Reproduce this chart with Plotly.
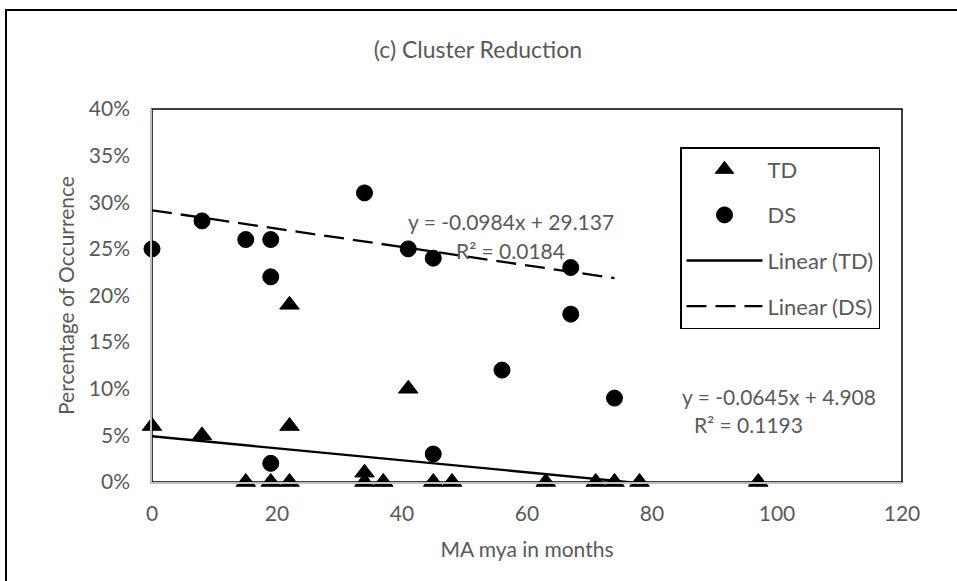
import plotly.graph_objects as go

# ---- data (percent values) ----
td_x = [0, 8, 15, 19, 22, 22, 22, 34, 34, 37, 41, 45, 48, 63, 71, 74, 78, 97]
td_y = [6, 5, 0, 0, 0, 19, 6, 1, 0, 0, 10, 0, 0, 0, 0, 0, 0, 0]
ds_x = [0, 8, 15, 19, 19, 19, 34, 41, 45, 45, 56, 67, 67, 74]
ds_y = [25, 28, 26, 26, 22, 2, 31, 25, 24, 3, 12, 23, 18, 9]

td_slope, td_intercept, td_r2 = -0.0645, 4.908, 0.1193
ds_slope, ds_intercept, ds_r2 = -0.0984, 29.137, 0.0184

x_ticks = [0, 20, 40, 60, 80, 100, 120]
y_ticks = [0, 5, 10, 15, 20, 25, 30, 35, 40]
y_ticktext = [f"{v}%" for v in y_ticks]

FONT = "Lato, 'Open Sans', sans-serif"
TXT = "#595959"

# plot-area pixel geometry
L, R, T, B = 152, 55, 109, 99
W, H = 957, 581
PW, PH = W - L - R, H - T - B


def px_x(p):
    return (p - L) / PW


def px_y(p):
    return (H - B - p) / PH


def fit(xs, m, b):
    x0, x1 = min(xs), max(xs)
    return [x0, x1], [m * x0 + b, m * x1 + b]


fig = go.Figure()

fig.add_trace(go.Scatter(
    x=td_x, y=td_y, mode="markers", name="TD", legendgroup="a",
    marker=dict(symbol="triangle-up", size=17, color="black",
                line=dict(color="black", width=1)),
    cliponaxis=False))
fig.add_trace(go.Scatter(
    x=ds_x, y=ds_y, mode="markers", name="DS", legendgroup="b",
    marker=dict(symbol="circle", size=16, color="black",
                line=dict(color="black", width=1)),
    cliponaxis=False))

tx, ty = fit(td_x, td_slope, td_intercept)
fig.add_trace(go.Scatter(
    x=tx, y=ty, mode="lines", name="Linear (TD)", legendgroup="c",
    line=dict(color="black", width=2.3)))
dx, dy = fit(ds_x, ds_slope, ds_intercept)
fig.add_trace(go.Scatter(
    x=dx, y=dy, mode="lines", name="Linear (DS)", legendgroup="d",
    line=dict(color="black", width=2.3, dash="20px,9px")))

ann_font = dict(family=FONT, size=21, color=TXT)
ann_common = dict(xref="paper", yref="paper", showarrow=False, font=ann_font,
                  borderpad=0, xanchor="center", yanchor="middle")
fig.add_annotation(x=px_x(511), y=px_y(221),
                   text=f"y = {ds_slope}x + {ds_intercept}", **ann_common)
fig.add_annotation(x=px_x(510), y=px_y(250),
                   text=f"R² = {ds_r2}", **ann_common)
fig.add_annotation(x=px_x(779), y=px_y(396),
                   text=f"y = {td_slope}x + {td_intercept}", **ann_common)
fig.add_annotation(x=px_x(748), y=px_y(424),
                   text=f"R² = {td_r2}", **ann_common)

# plot-area frame (top/right visible in black)
fig.add_shape(type="rect", xref="paper", yref="paper", x0=0, x1=1, y0=0, y1=1,
              line=dict(color="black", width=1.5), layer="below")
# outer chart frame
fig.add_shape(type="rect", xref="paper", yref="paper",
              x0=px_x(6), x1=px_x(975), y0=px_y(600), y1=px_y(10),
              line=dict(color="black", width=2))

fig.update_layout(
    width=W, height=H,
    margin=dict(l=L, r=R, t=T, b=B),
    paper_bgcolor="white", plot_bgcolor="white",
    font=dict(family=FONT, size=21, color=TXT),
    title=dict(text="(c) Cluster Reduction", x=478 / W,
               xref="container", xanchor="center",
               y=1 - 50 / H, yanchor="middle",
               font=dict(family=FONT, size=23, color=TXT)),
    showlegend=True,
    legend=dict(x=px_x(680), y=px_y(147), xanchor="left", yanchor="top",
                bordercolor="black", borderwidth=1.5, bgcolor="white",
                font=dict(family=FONT, size=22, color=TXT),
                itemwidth=76, traceorder="grouped", tracegroupgap=14,
                entrywidth=124, entrywidthmode="pixels"),
)

fig.update_xaxes(range=[0, 120], tickvals=x_ticks, ticks="", showgrid=False,
                 zeroline=False, showline=True, linecolor="#bfbfbf", linewidth=1.5,
                 ticklabelstandoff=12,
                 title=dict(text="MA mya in months", standoff=18,
                            font=dict(family=FONT, size=21, color=TXT)))
fig.update_yaxes(range=[0, 40], tickvals=y_ticks, ticktext=y_ticktext, ticks="",
                 showgrid=False, zeroline=False, showline=True,
                 linecolor="#bfbfbf", linewidth=1.5, ticklabelstandoff=16,
                 title=dict(text="Percentage of Occurrence", standoff=8,
                            font=dict(family=FONT, size=21, color=TXT)))

fig.write_html("out.html", config={"displayModeBar": False},
               post_script="document.body.style.margin='0';document.body.style.padding='0';")
